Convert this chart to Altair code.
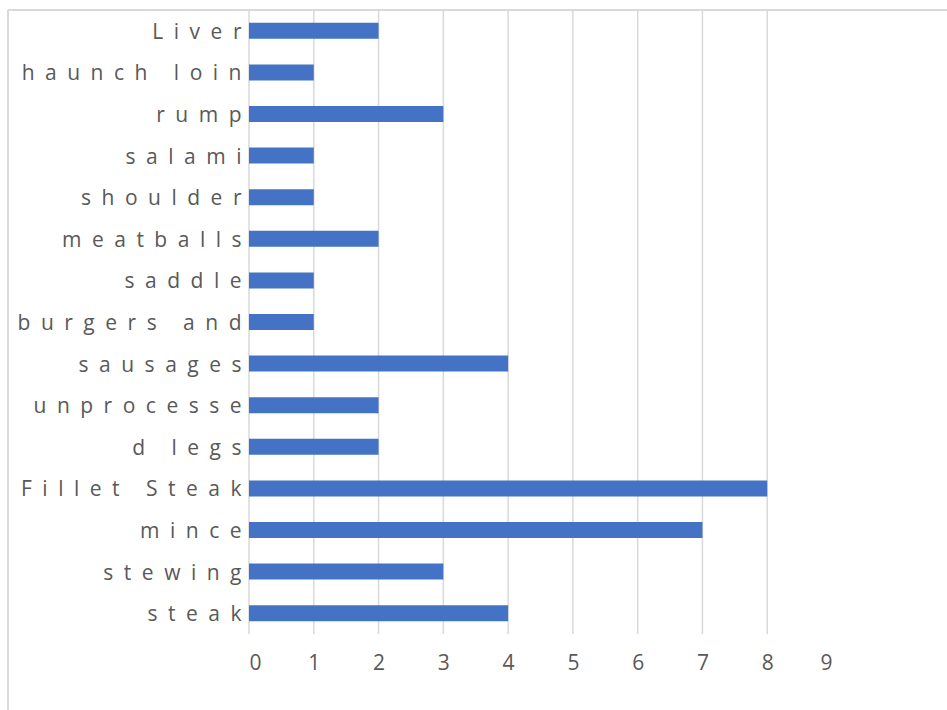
import altair as alt
import pandas as pd

categories = ["Liver", "haunch loin", "rump", "salami", "shoulder", "meatballs",
              "saddle", "burgers and", "sausages", "unprocesse", "d legs",
              "Fillet Steak", "mince", "stewing", "steak"]
values = [2, 1, 3, 1, 1, 2, 1, 1, 4, 2, 2, 8, 7, 3, 4]
x_ticks = list(range(10))
grid_values = list(range(9))

bars_df = pd.DataFrame({"cat": categories, "val": values})
grid_df = pd.DataFrame({"val": grid_values})
one = pd.DataFrame({"a": [0]})

W, H = 583, 624
FONT = "Open Sans"
GRAY = "#595959"

xscale = alt.Scale(domain=[0, 9], nice=False, zero=True)
xaxis = alt.Axis(values=x_ticks, grid=False, domain=False, ticks=False,
                 labelFont=FONT, labelFontSize=21, labelColor=GRAY,
                 labelPadding=18, title=None, format="d")

border_left = alt.Chart(one).mark_rule(color="#d9d9d9", strokeWidth=2).encode(
    x=alt.value(-241), y=alt.value(0), y2=alt.value(720))
border_top = alt.Chart(one).mark_rule(color="#d9d9d9", strokeWidth=2).encode(
    x=alt.value(-241), x2=alt.value(720), y=alt.value(0))

grid = alt.Chart(grid_df).mark_rule(color="#d9d9d9", strokeWidth=1.5).encode(
    x=alt.X("val:Q", scale=xscale, axis=xaxis))

bars = alt.Chart(bars_df).mark_bar(color="#4472C4").encode(
    x=alt.X("val:Q", scale=xscale, axis=xaxis),
    y=alt.Y("cat:N", sort=categories,
            scale=alt.Scale(paddingInner=0.615, paddingOuter=0.3075),
            axis=alt.Axis(grid=False, domain=False, ticks=False,
                          labelFont=FONT, labelFontSize=21, labelColor=GRAY,
                          labelPadding=8, labelOffset=2, title=None, labelLimit=400,
                          labelExpr="join(split(datum.label, ''), '\u2002')")),
)

chart = alt.layer(border_left, border_top, grid, bars).properties(
    width=W, height=H, background="white",
    padding={"left": 249, "top": 10, "right": 115, "bottom": 76},
    autosize=alt.AutoSizeParams(type="none"),
).configure_view(strokeWidth=0, stroke="transparent")

chart.save("out.html", embed_options={"renderer": "svg", "actions": False})
